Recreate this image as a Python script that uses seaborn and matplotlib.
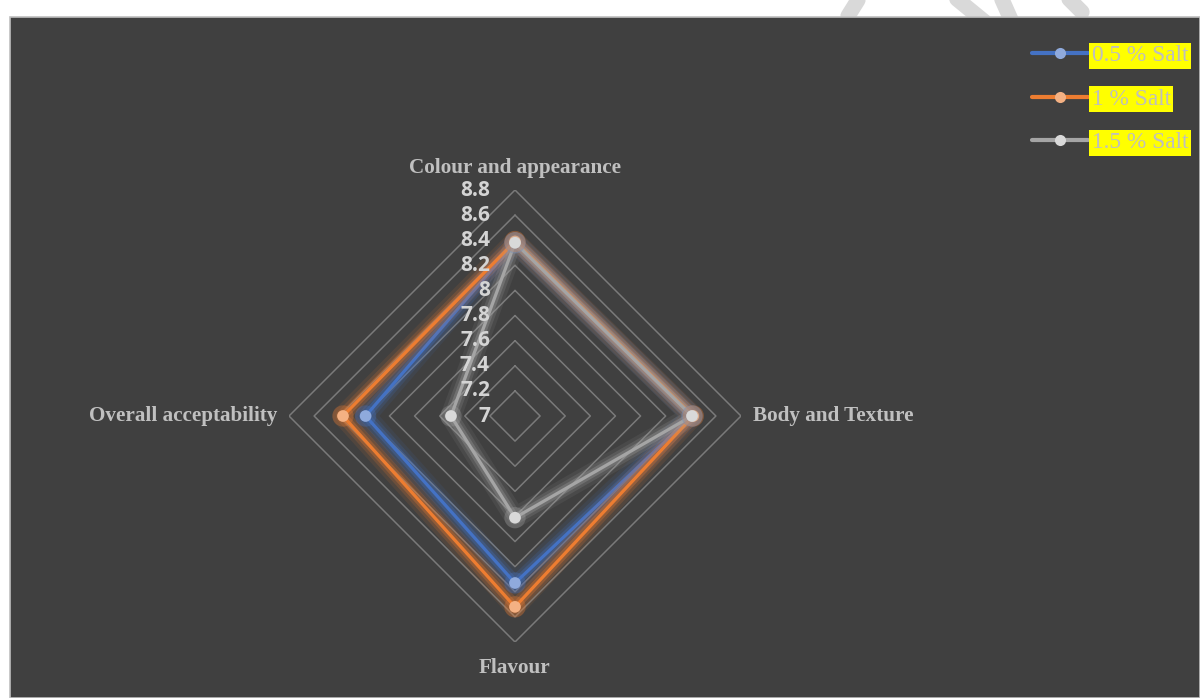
import numpy as np
import pandas as pd
import matplotlib
matplotlib.use("Agg")
import matplotlib.pyplot as plt
import matplotlib.patheffects as pe
from matplotlib.lines import Line2D
from matplotlib.patches import Rectangle
import seaborn as sns

# ---------------- data ----------------
categories = ["Colour and appearance", "Body and Texture", "Flavour", "Overall acceptability"]
series_names = ["0.5 % Salt", "1 % Salt", "1.5 % Salt"]
salt_05 = [8.38, 8.41, 8.33, 8.19]
salt_10 = [8.39, 8.42, 8.52, 8.37]
salt_15 = [8.38, 8.41, 7.81, 7.51]
tick_levels = [7.0, 7.2, 7.4, 7.6, 7.8, 8.0, 8.2, 8.4, 8.6, 8.8]
tick_labels = ["7", "7.2", "7.4", "7.6", "7.8", "8", "8.2", "8.4", "8.6", "8.8"]

line_colors = ["#4472C4", "#ED7D31", "#A5A5A5"]
marker_colors = ["#8FAADC", "#F4B183", "#D9D9D9"]

sns.set_style("white")
plt.rcParams["font.family"] = ["Liberation Serif", "DejaVu Serif"]

fig = plt.figure(figsize=(12, 6.98), dpi=100)
fig.patch.set_facecolor("white")

# watermark fragments at top (decoration)
for (x0, y0, x1, y1) in [(858, 0, 848, 16), (952, -5, 985, 22), (1000, -5, 1012, 22), (1062, -8, 1082, 12)]:
    fig.add_artist(Line2D([x0 / 1200, x1 / 1200], [1 - y0 / 698, 1 - y1 / 698],
                          color="#d9d9d9", lw=11, solid_capstyle="round", zorder=0))

# dark chart area
fig.add_artist(Rectangle((10 / 1200, 0), 1190 / 1200, 681 / 698, transform=fig.transFigure,
                         facecolor="#404040", edgecolor="#bfbfbf", lw=1.2, zorder=1))

# polar axes
cx, cy, R = 515, 416, 226
ax = fig.add_axes([(cx - R) / 1200, (698 - cy - R) / 698, 2 * R / 1200, 2 * R / 698], projection="polar")
ax.set_zorder(2)
ax.set_facecolor("none")
ax.set_theta_offset(np.pi / 2)
ax.set_theta_direction(-1)

n = len(categories)
theta = np.linspace(0, 2 * np.pi, n, endpoint=False)
theta_closed = np.append(theta, 2 * np.pi)

# grid rings (straight-edged diamonds)
for lv in tick_levels[1:]:
    ax.plot(theta_closed, [lv] * (n + 1), color="#7a7a7a", lw=1.1, zorder=1)

rows = []
for name, vals in zip(series_names, [salt_05, salt_10, salt_15]):
    vc = list(vals) + [vals[0]]
    for i, (t, v) in enumerate(zip(theta_closed, vc)):
        rows.append({"series": name, "theta": t, "value": v, "order": i})
df = pd.DataFrame(rows)

for name, lc, mc in zip(series_names, line_colors, marker_colors):
    sub = df[df["series"] == name]
    glow = [pe.Stroke(linewidth=15, foreground=lc, alpha=0.10),
            pe.Stroke(linewidth=10, foreground=lc, alpha=0.18),
            pe.Stroke(linewidth=6, foreground=lc, alpha=0.3),
            pe.Normal()]
    sns.lineplot(data=sub, x="theta", y="value", sort=False, estimator=None, ax=ax,
                 color=lc, lw=2.3, path_effects=glow, zorder=3, legend=False)
    pts = sub.iloc[:-1]
    sns.scatterplot(data=pts, x="theta", y="value", ax=ax, color=mc, s=70, linewidth=0,
                    zorder=4, legend=False,
                    path_effects=[pe.Stroke(linewidth=7, foreground=lc, alpha=0.3), pe.Normal()])

ax.set_ylim(7, 8.8)
ax.grid(False)
ax.spines["polar"].set_visible(False)
ax.set_xticks([])
ax.set_yticks([])
ax.set_xlabel("")
ax.set_ylabel("")

# radial tick labels
for lv, lab in zip(tick_levels, tick_labels):
    ax.annotate(lab, xy=(0, lv), xycoords="data", xytext=(-18, 0), textcoords="offset points",
                ha="right", va="center", fontsize=15, fontweight="bold", color="#d4d4d4",
                family=["Open Sans", "DejaVu Sans"], annotation_clip=False, zorder=5)

# category labels
offsets = [(0, 16, "center", "center"), (8.6, 0, "left", "center"),
           (0, -18.5, "center", "center"), (-8.6, 0, "right", "center")]
for t, cat, (dx, dy, ha, va) in zip(theta, categories, offsets):
    ax.annotate(cat, xy=(t, 8.8), xycoords="data", xytext=(dx, dy), textcoords="offset points",
                ha=ha, va=va, fontsize=15.2, fontweight="bold", color="#c0c0c0",
                family=["Liberation Serif", "DejaVu Serif"], annotation_clip=False)

# legend
handles = [Line2D([0], [0], color=lc, lw=3, marker="o", markersize=8,
                  markerfacecolor=mc, markeredgewidth=0)
           for lc, mc in zip(line_colors, marker_colors)]
leg = fig.legend(handles, series_names, loc="upper right", bbox_to_anchor=(1188 / 1200, 1 - 45 / 698),
                 frameon=False, fontsize=16.8, handlelength=2.4, handletextpad=0.15,
                 labelspacing=0.95, borderpad=0, borderaxespad=0)
leg.set_zorder(6)
for txt in leg.get_texts():
    txt.set_color("#bfbfbf")
    txt.set_family(["Liberation Serif", "DejaVu Serif"])
    txt.set_bbox(dict(facecolor="#FFFF00", edgecolor="none", pad=1.8))

fig.savefig("out.png", dpi=100, facecolor=fig.get_facecolor())
